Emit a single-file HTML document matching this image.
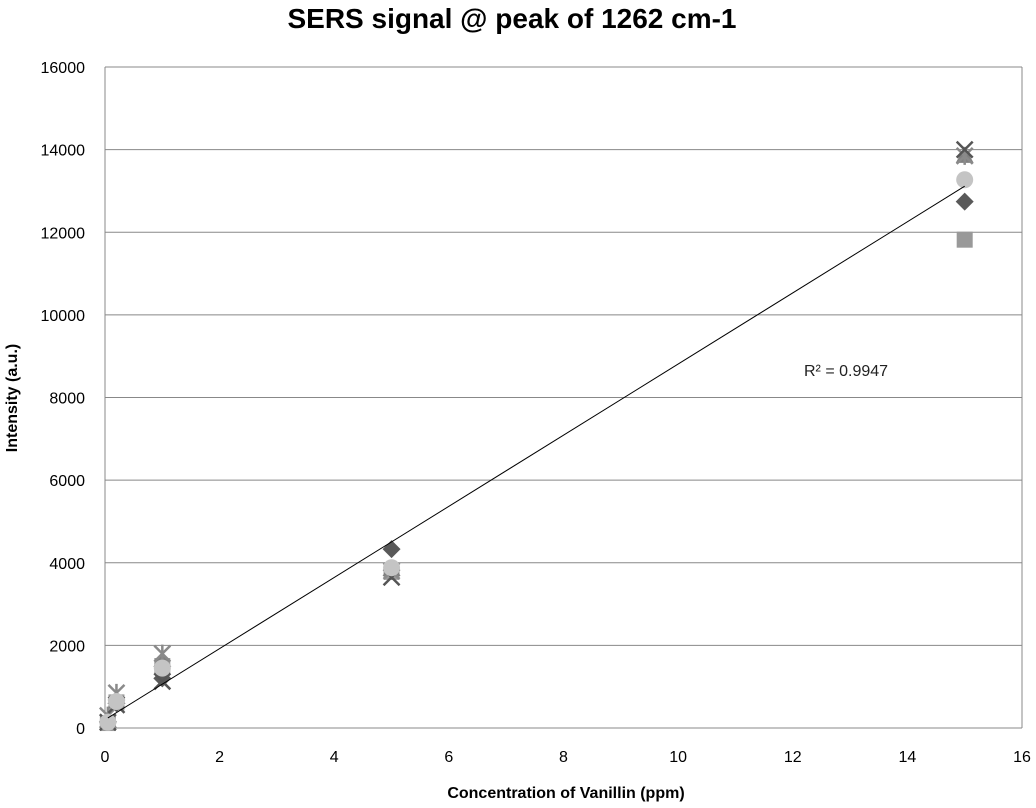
<!DOCTYPE html>
<html><head><meta charset="utf-8"><style>
body{margin:0;background:#fff;font-family:"Liberation Sans",sans-serif}
svg text{font-family:"Liberation Sans",sans-serif}
</style></head><body>
<svg id="chart" width="1036" height="803" xmlns="http://www.w3.org/2000/svg">
<text x="512" y="28" text-anchor="middle" font-size="28" font-weight="bold">SERS signal @ peak of 1262 cm-1</text>
<g id="grid"></g>
<g id="axes"></g>
<g id="marks"></g>
<text x="804" y="376" font-size="16" fill="#222">R² = 0.9947</text>
<text x="566" y="798" text-anchor="middle" font-size="16" font-weight="bold">Concentration of Vanillin (ppm)</text>
<text transform="translate(17,398) rotate(-90)" text-anchor="middle" font-size="16" font-weight="bold">Intensity (a.u.)</text>
</svg>
<script>
const xTicks=[0,2,4,6,8,10,12,14,16];
const yTicks=[0,2000,4000,6000,8000,10000,12000,14000,16000];
const concentrations=[0.05,0.2,1,5,15];
const diamondSeries=[150,600,1200,4330,12740];
const squareSeries=[120,620,1500,3780,11820];
const triangleSeries=[180,650,1650,3850,13850];
const xSeries=[140,560,1130,3650,14000];
const starSeries=[300,850,1800,3800,13850];
const circleSeries=[140,640,1450,3880,13270];
const trendIntercept=200, trendSlope=861;
const X0=105,X1=1022,Y0=728,Y1=67;
const xs=v=>X0+(v-0)/16*(X1-X0);
const ys=v=>Y0-v/16000*(Y0-Y1);
const NS="http://www.w3.org/2000/svg";
function mk(t,a,p){const e=document.createElementNS(NS,t);for(const k in a)e.setAttribute(k,a[k]);p.appendChild(e);return e;}
const grid=document.getElementById('grid'),axes=document.getElementById('axes'),marks=document.getElementById('marks');
yTicks.forEach(t=>{
 const l=mk('line',{x1:X0,x2:X1,y1:ys(t),y2:ys(t),stroke:'#888','stroke-width':1},grid);
 
 
 const tx=mk('text',{x:X0-20,y:ys(t)+6,'text-anchor':'end','font-size':16},axes);tx.textContent=t;
 
 
});
xTicks.forEach(t=>{
 const tx=mk('text',{x:xs(t),y:Y0+34,'text-anchor':'middle','font-size':16},axes);tx.textContent=t;
 
 
});
mk('line',{x1:X0,x2:X0,y1:Y1,y2:Y0,stroke:'#888'},axes);
mk('line',{x1:X1,x2:X1,y1:Y1,y2:Y0,stroke:'#888'},axes);
mk('line',{x1:X0,x2:X1,y1:Y0,y2:Y0,stroke:'#888'},axes);
function draw(series,shape,color,name){
 series.forEach((v,i)=>{
  const cx=xs(concentrations[i]),cy=ys(v);let e;
  if(shape==='diamond')e=mk('polygon',{points:`${cx},${cy-9} ${cx+9},${cy} ${cx},${cy+9} ${cx-9},${cy}`,fill:color},marks);
  else if(shape==='square')e=mk('rect',{x:cx-8,y:cy-8,width:16,height:16,fill:color},marks);
  else if(shape==='triangle')e=mk('polygon',{points:`${cx},${cy-9} ${cx+9},${cy+7} ${cx-9},${cy+7}`,fill:color},marks);
  else if(shape==='x')e=mk('path',{d:`M${cx-8},${cy-8}L${cx+8},${cy+8}M${cx-8},${cy+8}L${cx+8},${cy-8}`,stroke:color,'stroke-width':2.5},marks);
  else if(shape==='star')e=mk('path',{d:`M${cx-8},${cy-8}L${cx+8},${cy+8}M${cx-8},${cy+8}L${cx+8},${cy-8}M${cx},${cy-9}L${cx},${cy+9}`,stroke:color,'stroke-width':2.5},marks);
  else e=mk('circle',{cx:cx,cy:cy,r:8.5,fill:color},marks);
  
  
 });
}
draw(squareSeries,'square','#999999','square-point');
draw(diamondSeries,'diamond','#595959','diamond-point');
draw(triangleSeries,'triangle','#808080','triangle-point');
draw(starSeries,'star','#8a8a8a','star-point');
draw(xSeries,'x','#555555','x-point');
draw(circleSeries,'circle','#c4c4c4','circle-point');
const tl=mk('line',{x1:xs(0.05),y1:ys(trendIntercept+trendSlope*0.05),x2:xs(15),y2:ys(trendIntercept+trendSlope*15),stroke:'#000','stroke-width':1},marks);


</script>
</body></html>
